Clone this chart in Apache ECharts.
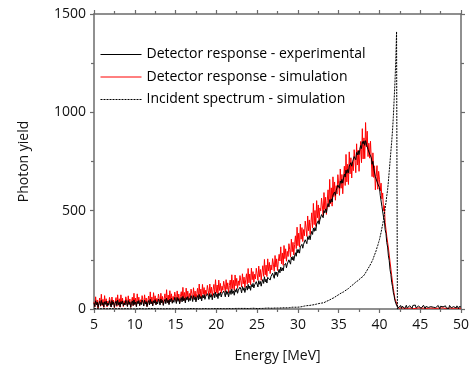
<!DOCTYPE html>
<html>
<head>
<meta charset="utf-8">
<script src="https://cdn.jsdelivr.net/npm/echarts@6/dist/echarts.min.js"></script>
<style>
html,body{margin:0;padding:0;background:#fff;}
#chart{width:472px;height:370px;}
</style>
</head>
<body>
<div id="chart"></div>
<script>
// Energy grid of the spectra (MeV): first bin and bin width
const energyStart = 5;
const energyStep = 0.1;

// Axis ticks
const xTicks = [5, 10, 15, 20, 25, 30, 35, 40, 45, 50];
const yTicks = [0, 500, 1000, 1500];

const seriesNames = [
  'Detector response - experimental',
  'Detector response - simulation',
  'Incident spectrum - simulation'
];
const seriesColors = ['#000000', '#ff0000', '#000000'];

// Detector response - experimental (5.0 .. 50.0 MeV, 0.1 MeV steps)
const experimental = [
  31,12,42,22,35,8,28,39,17,44,
  21,33,10,37,24,40,15,30,19,43,
  33,10,43,23,36,9,29,40,18,45,
  22,34,11,38,25,41,16,31,20,44,
  32,13,43,23,36,9,29,41,18,46,
  23,35,12,39,26,43,18,33,22,46,
  34,15,45,25,38,12,31,43,21,49,
  26,38,16,42,30,47,21,37,26,51,
  39,20,51,31,44,18,38,49,27,55,
  32,45,22,50,37,54,29,45,34,59,
  47,28,59,39,53,26,46,58,36,64,
  41,54,31,59,46,63,38,54,43,68,
  56,38,68,48,62,36,56,68,46,74,
  51,64,41,69,56,73,49,64,54,78,
  67,49,79,60,73,47,68,79,57,85,
  63,76,53,81,69,86,61,77,68,91,
  80,62,93,74,88,62,82,94,74,101,
  79,92,70,98,86,104,80,96,86,111,
  100,82,114,95,108,84,105,117,96,125,
  103,117,95,124,112,130,107,123,114,139,
  129,112,144,126,140,116,137,150,130,164,
  138,152,132,161,151,169,147,165,155,182,
  172,156,189,172,188,165,188,202,184,213,
  193,209,194,221,214,232,210,229,222,250,
  242,228,264,249,267,246,269,286,268,303,
  285,302,284,316,308,329,309,329,323,352,
  345,332,368,354,373,352,378,395,379,412,
  395,414,398,432,426,449,431,453,449,480,
  475,464,501,489,509,490,517,536,521,556,
  540,560,544,579,573,595,578,602,598,630,
  625,614,651,639,659,640,667,686,671,706,
  690,709,693,727,721,744,726,748,744,775,
  770,759,796,784,804,785,812,831,816,851,
  840,855,832,856,838,846,811,814,788,797,
  770,736,751,716,714,672,677,673,636,646,
  618,578,569,522,512,468,452,403,384,338,
  315,270,246,200,176,136,115,85,67,43,
  30,19,12,4,2,12,18,3,15,6,
  15,2,12,19,4,13,0,17,7,11,
  3,18,8,12,20,5,10,1,16,9,
  14,3,11,6,19,10,2,13,5,17,
  8,15,2,12,6,20,9,4,16,7,
  13,4,18,9,1,14,6,19,11,3,
  10,16,5,12,8,2,18,11,6,15,
  4,12,19,7,5,16,9,2,13,6,
  10
];

// Detector response - simulation (5.0 .. 50.0 MeV, 0.1 MeV steps)
const simulation = [
  36,11,62,20,46,4,33,56,14,75,
  17,49,8,68,24,52,11,40,20,59,
  38,10,61,23,45,6,35,58,13,72,
  19,52,9,72,25,55,12,42,22,62,
  41,14,67,24,51,8,37,60,17,80,
  23,56,13,77,30,60,17,47,28,68,
  45,18,72,29,56,13,43,66,22,87,
  27,61,18,83,36,67,23,54,34,76,
  52,26,80,37,64,21,51,77,32,98,
  36,71,27,93,45,77,34,64,45,86,
  63,36,92,47,76,31,64,88,43,110,
  48,84,39,106,58,91,46,79,57,101,
  77,49,108,61,91,45,79,105,58,127,
  63,101,54,125,75,109,62,96,75,120,
  95,67,127,80,111,63,98,125,77,149,
  83,122,73,147,94,130,81,116,95,141,
  116,86,149,100,133,83,119,147,98,174,
  104,146,95,173,118,156,105,143,120,170,
  143,112,179,128,162,110,148,179,126,206,
  133,178,124,208,149,190,136,177,153,207,
  179,146,218,164,201,146,187,220,166,252,
  174,223,165,255,193,237,180,224,199,256,
  228,192,272,214,255,196,242,278,244,316,
  230,285,222,323,256,306,243,293,267,332,
  301,264,355,291,339,275,328,372,307,416,
  322,386,315,432,355,414,343,404,372,447,
  412,369,473,398,453,378,439,489,413,537,
  429,501,420,551,464,529,448,514,499,564,
  524,473,592,506,568,481,550,606,518,659,
  535,616,523,672,572,646,553,627,585,683,
  636,578,712,614,684,586,664,726,628,786,
  646,736,633,799,687,769,666,747,703,810,
  758,693,840,732,808,700,785,852,744,917,
  763,870,764,948,824,904,775,843,767,853,
  762,673,794,669,728,606,674,729,609,700,
  660,600,640,560,590,500,525,440,450,370,
  380,310,305,240,235,170,160,105,95,52,
  45,30,15,6,3,8,2,6,3,9,
  4,2,6,3,5,1,4,7,2,5,
  3,6,2,4,8,3,5,2,6,4,
  2,5,3,7,4,2,6,3,5,1,
  4,6,2,5,3,7,4,2,5,3,
  6,2,4,3,7,5,2,4,6,3,
  5,2,7,3,4,6,2,5,3,4,
  3,6,2,5,4,7,3,2,5,4,
  3
];

// Incident spectrum - simulation (5.0 .. 42.3 MeV, 0.1 MeV steps)
const incident = [
  1,0,1,2,0,1,1,0,2,1,
  0,1,2,1,0,1,0,2,1,1,
  1,2,0,1,1,0,2,1,0,1,
  2,1,0,1,2,1,0,1,1,2,
  0,1,1,2,0,1,2,1,0,1,
  1,0,2,1,1,0,1,2,1,0,
  1,2,1,0,1,1,2,0,1,2,
  0,1,2,1,1,2,0,1,2,1,
  1,1,0,2,1,2,1,0,1,2,
  2,0,1,1,2,1,1,2,0,1,
  1,2,1,0,2,1,2,1,1,2,
  1,1,2,1,0,2,1,2,1,1,
  2,1,1,2,1,1,2,0,2,1,
  1,2,1,2,1,2,1,1,2,2,
  2,1,2,1,2,2,1,2,1,2,
  2,1,2,2,1,3,2,1,2,2,
  2,3,1,2,2,3,2,2,1,3,
  2,2,3,2,3,1,2,3,2,2,
  3,2,2,3,2,3,3,2,3,2,
  3,2,3,3,2,4,3,2,3,3,
  3,2,4,3,3,4,2,3,4,3,
  4,3,4,5,3,4,4,5,3,4,
  5,4,5,4,6,5,4,6,5,5,
  5,6,5,7,6,6,7,6,8,7,
  7,8,7,9,8,8,9,9,10,9,
  10,12,10,13,11,12,14,12,15,14,
  15,17,15,18,18,17,20,20,19,22,
  22,24,22,25,26,25,28,27,29,30,
  30,33,32,36,35,39,40,42,44,46,
  48,51,52,56,57,60,62,65,67,71,
  73,76,77,81,82,86,87,91,93,96,
  98,102,104,109,111,116,118,123,125,130,
  133,137,138,144,145,150,151,157,158,164,
  166,173,177,186,191,200,205,214,219,229,
  235,245,252,264,273,286,297,312,324,339,
  352,371,389,411,431,455,481,513,541,575,
  606,650,700,750,800,850,905,975,1063,1150,
  1260,1410,0,0
];

function toPairs(values) {
  return values.map((v, i) => [Math.round((energyStart + i * energyStep) * 10) / 10, v]);
}

const FONT = "'Open Sans', 'Noto Sans', sans-serif";
const AXIS_COLOR = '#6b6b6b';
const TEXT_COLOR = '#111';

const xMin = xTicks[0], xMax = xTicks[xTicks.length - 1], xInt = xTicks[1] - xTicks[0];
const yMin = yTicks[0], yMax = yTicks[yTicks.length - 1], yInt = yTicks[1] - yTicks[0];

const axisLine = { show: true, onZero: false, lineStyle: { color: AXIS_COLOR, width: 1.5 } };
const axisTick = { show: true, inside: false, length: 4, lineStyle: { color: AXIS_COLOR, width: 1.2 } };
const minorTick = { show: true, splitNumber: 2, length: 3, lineStyle: { color: AXIS_COLOR, width: 1.2 } };
const plainLabel = v => String(v);

const lineTypes = ['solid', 'solid', [2, 1]];
const legendData = seriesNames.map((name, i) => ({
  name,
  itemStyle: { opacity: 0, borderWidth: 0 },
  lineStyle: { color: seriesColors[i], width: 1, type: lineTypes[i], opacity: 1 }
}));

const chart = echarts.init(document.getElementById('chart'), null, { renderer: 'canvas' });
chart.setOption({
  animation: false,
  backgroundColor: '#fff',
  grid: { left: 94, right: 10, top: 14, bottom: 61, containLabel: false },
  legend: {
    data: legendData,
    orient: 'vertical',
    left: 100,
    top: 46.5,
    padding: 0,
    itemWidth: 41,
    itemHeight: 16,
    itemGap: 6.5,
    textStyle: { fontFamily: FONT, fontSize: 14, color: '#000', lineHeight: 16 },
    selectedMode: false
  },
  xAxis: [
    {
      type: 'value', position: 'bottom', min: xMin, max: xMax, interval: xInt,
      axisLine, axisTick, minorTick,
      splitLine: { show: false }, minorSplitLine: { show: false },
      axisLabel: { fontFamily: FONT, fontSize: 14, color: TEXT_COLOR, margin: 9, formatter: plainLabel },
      name: 'Energy [MeV]', nameLocation: 'middle', nameGap: 40,
      nameTextStyle: { fontFamily: FONT, fontSize: 14, color: TEXT_COLOR }
    },
    {
      type: 'value', position: 'top', min: xMin, max: xMax, interval: xInt,
      axisLine, axisTick, minorTick,
      splitLine: { show: false }, axisLabel: { show: false }
    }
  ],
  yAxis: [
    {
      type: 'value', position: 'left', min: yMin, max: yMax, interval: yInt,
      axisLine, axisTick, minorTick,
      splitLine: { show: false }, minorSplitLine: { show: false },
      axisLabel: { fontFamily: FONT, fontSize: 14, color: TEXT_COLOR, margin: 8, formatter: plainLabel },
      name: 'Photon yield', nameLocation: 'middle', nameGap: 63,
      nameTextStyle: { fontFamily: FONT, fontSize: 14, color: TEXT_COLOR }
    },
    {
      type: 'value', position: 'right', min: yMin, max: yMax, interval: yInt,
      axisLine, axisTick, minorTick,
      splitLine: { show: false }, axisLabel: { show: false }
    }
  ],
  series: [
    {
      name: seriesNames[1], type: 'line', data: toPairs(simulation),
      xAxisIndex: 0, yAxisIndex: 0, symbol: 'none', showSymbol: false,
      lineStyle: { color: seriesColors[1], width: 1 }, itemStyle: { color: seriesColors[1] }, z: 2
    },
    {
      name: seriesNames[0], type: 'line', data: toPairs(experimental),
      xAxisIndex: 0, yAxisIndex: 0, symbol: 'none', showSymbol: false,
      lineStyle: { color: seriesColors[0], width: 1 }, itemStyle: { color: seriesColors[0] }, z: 3
    },
    {
      name: seriesNames[2], type: 'line', data: toPairs(incident),
      xAxisIndex: 0, yAxisIndex: 0, symbol: 'none', showSymbol: false,
      lineStyle: { color: seriesColors[2], width: 1, type: lineTypes[2] }, itemStyle: { color: seriesColors[2] }, z: 4
    }
  ]
});
</script>
</body>
</html>
